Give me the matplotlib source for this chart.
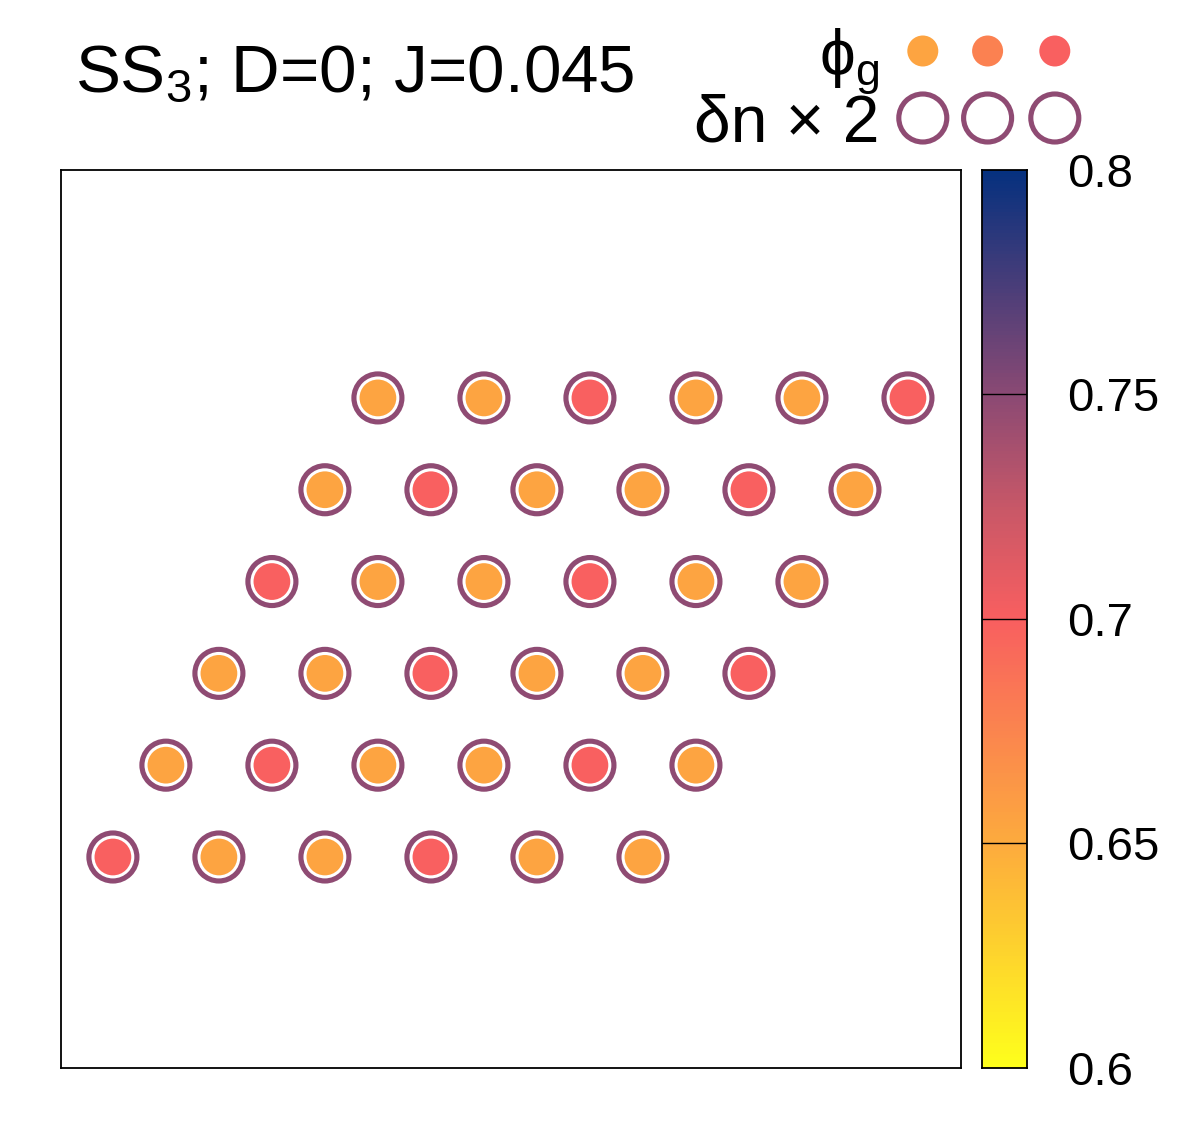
import matplotlib
matplotlib.use('Agg')
import matplotlib.pyplot as plt
import numpy as np
from matplotlib.colors import LinearSegmentedColormap, Normalize

plt.rcParams['font.family'] = ['Liberation Sans', 'DejaVu Sans']
plt.rcParams['mathtext.fontset'] = 'custom'
plt.rcParams['mathtext.rm'] = 'Liberation Sans'
plt.rcParams['mathtext.it'] = 'Liberation Sans'

# lattice sites, bottom row first
row_y = [0.0, 0.866, 1.732, 2.598, 3.464, 4.330]
row_x = [[0.0, 1.0, 2.0, 3.0, 4.0, 5.0],
         [0.5, 1.5, 2.5, 3.5, 4.5, 5.5],
         [1.0, 2.0, 3.0, 4.0, 5.0, 6.0],
         [1.5, 2.5, 3.5, 4.5, 5.5, 6.5],
         [2.0, 3.0, 4.0, 5.0, 6.0, 7.0],
         [2.5, 3.5, 4.5, 5.5, 6.5, 7.5]]
# phi_g on each site
phi_g = [[0.700, 0.655, 0.655, 0.700, 0.655, 0.655],
         [0.655, 0.700, 0.655, 0.655, 0.700, 0.655],
         [0.655, 0.655, 0.700, 0.655, 0.655, 0.700],
         [0.700, 0.655, 0.655, 0.700, 0.655, 0.655],
         [0.655, 0.700, 0.655, 0.655, 0.700, 0.655],
         [0.655, 0.655, 0.700, 0.655, 0.655, 0.700]]
# delta n x 2 on each site (same everywhere)
dn2 = [[0.748] * 6 for _ in range(6)]

legend_phi = [0.655, 0.6775, 0.700]
legend_dn = [0.748, 0.748, 0.748]
cbar_ticks = [0.6, 0.65, 0.7, 0.75, 0.8]
cbar_labels = ['0.6', '0.65', '0.7', '0.75', '0.8']

pal = LinearSegmentedColormap.from_list('pal', [
    (0.0, '#ffff1c'),
    (0.25, '#fdab3e'),
    (0.5, '#f95f60'),
    (0.625, '#c85868'),
    (0.75, '#8b4a74'),
    (1.0, '#06317f')])
norm = Normalize(0.6, 0.8)

x = np.array([xx for r in row_x for xx in r])
y = np.array([row_y[j] for j, r in enumerate(row_x) for _ in r])
c_phi = np.array(phi_g).ravel()
c_dn = np.array(dn2).ravel()

fig = plt.figure(figsize=(12, 11.25), dpi=100)
ax = fig.add_axes([0.0508, 0.0507, 0.75, 0.7982])

ax.scatter(x, y, s=1194, facecolors='none', edgecolors=pal(norm(c_dn)), linewidths=3.7, zorder=2)
ax.scatter(x, y, s=700, c=c_phi, cmap=pal, norm=norm, edgecolors='none', zorder=3)

ax.set_xlim(-0.49, 8.0)
ax.set_ylim(-1.99, 6.48)
ax.set_xticks([])
ax.set_yticks([])
for sp in ax.spines.values():
    sp.set_linewidth(1.3)

# colour bar
cax = fig.add_axes([0.8183, 0.0507, 0.0375, 0.7982])
grad = np.linspace(0.6, 0.8, 256).reshape(-1, 1)
cax.imshow(grad, aspect='auto', origin='lower', cmap=pal, norm=norm,
           extent=[0, 1, 0.6, 0.8])
cax.set_xlim(0, 1)
cax.set_ylim(0.6, 0.8)
cax.set_xticks([])
cax.yaxis.tick_right()
cax.set_yticks(cbar_ticks)
cax.set_yticklabels(cbar_labels)
cax.tick_params(axis='y', length=0, pad=29, labelsize=34)
for t in cbar_ticks[1:-1]:
    cax.axhline(t, color='black', lw=1)
for sp in cax.spines.values():
    sp.set_linewidth(1.3)

# title and key
fig.text(0.0625, 1 - 92 / 1125, 'SS$_3$; D=0; J=0.045', fontsize=48.5, va='baseline', ha='left')

lax = fig.add_axes([0, 0, 1, 1])
lax.set_xlim(0, 1)
lax.set_ylim(0, 1)
lax.axis('off')
lax.text(0.733, 1 - 76 / 1125, r'$\mathrm{\phi_g}$', fontsize=46, ha='right', va='baseline')
lax.text(0.733, 1 - 142 / 1125, 'δn × 2', fontsize=47.5, ha='right', va='baseline')
kx = [0.769, 0.823, 0.879]
lax.scatter(kx, [1 - 51 / 1125] * 3, s=498, c=legend_phi, cmap=pal, norm=norm, edgecolors='none')
lax.scatter(kx, [1 - 118 / 1125] * 3, s=1194, facecolors='none',
            edgecolors=pal(norm(np.array(legend_dn))), linewidths=3.7)

plt.savefig('out.png', dpi=100)
